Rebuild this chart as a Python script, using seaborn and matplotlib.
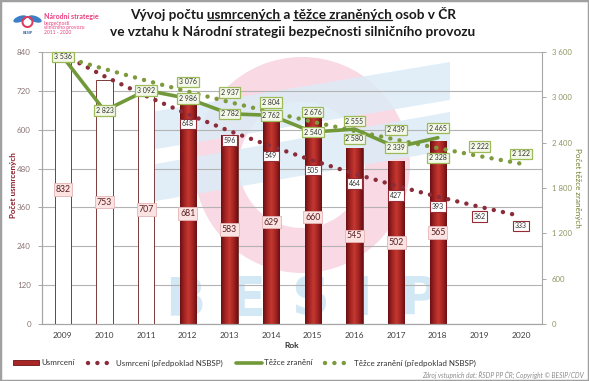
import numpy as np
import pandas as pd
import matplotlib
matplotlib.use("Agg")
import matplotlib.pyplot as plt
import seaborn as sns
from matplotlib.colors import LinearSegmentedColormap
from matplotlib.patches import Patch, Wedge, Polygon, Rectangle, Ellipse
from matplotlib.lines import Line2D

# data
years = [2009, 2010, 2011, 2012, 2013, 2014, 2015, 2016, 2017, 2018, 2019, 2020]
killed = [832, 753, 707, 681, 583, 629, 660, 545, 502, 565]
killed_target = [832, 765, 704, 648, 596, 549, 505, 464, 427, 393, 362, 333]
injured = [3536, 2823, 3092, 2986, 2782, 2762, 2540, 2580, 2339, 2465]
injured_target = [3536, 3375, 3222, 3076, 2937, 2804, 2676, 2555, 2439, 2328, 2222, 2122]
strategy_start = 2012

RED = "#a82626"
RED_DOT = "#8a2c3a"
GREEN = "#71993a"
GREEN_DOT = "#7d9a3c"
PINK = "#e8417f"
DOTS = (0, (0.01, 2.1))

sns.set_theme(style="white")
plt.rcParams["font.family"] = ["Lato", "DejaVu Sans"]

W, H = 589, 381
fig = plt.figure(figsize=(W / 100, H / 100), dpi=100)

# background watermark + logo, in pixel coordinates
bg = fig.add_axes([0, 0, 1, 1], zorder=-1)
bg.set_xlim(0, W)
bg.set_ylim(H, 0)
bg.axis("off")
bg.add_patch(Wedge((302, 165), 108, 0, 360, width=45, color="#f9d9e3", lw=0))
bg.add_patch(Polygon([(150, 112), (450, 62), (450, 100), (150, 150)], color="#dcecf6", alpha=0.85, lw=0))
bg.add_patch(Polygon([(150, 165), (450, 112), (450, 150), (150, 202)], color="#dcecf6", alpha=0.85, lw=0))
for letter, lx in zip("BESIP", [185, 247, 310, 362, 418]):
    bg.text(lx, 326, letter, ha="center", va="bottom", fontsize=38, fontweight="bold",
            color="#d3e8f5", family="DejaVu Sans")
# logo
bg.add_patch(Ellipse((20, 19), 14, 6, angle=-20, color="#3a7fc8", lw=0))
bg.add_patch(Ellipse((35, 19), 14, 6, angle=20, color="#3a7fc8", lw=0))
bg.add_patch(Wedge((27.5, 22), 6, 0, 360, width=2, color="#e03a5a", lw=0))
bg.text(27.5, 33, "BESIP", ha="center", va="center", fontsize=2.8, color="#2c5ea8", fontweight="bold")
bg.text(44, 17, "Národní strategie", fontsize=5, color=PINK, fontweight="bold", va="center")
for i, s in enumerate(["bezpečnosti", "silničního provozu", "2011 - 2020"]):
    bg.text(44, 23 + 5 * i, s, fontsize=3.6, color=PINK, va="center")
fig.add_artist(Rectangle((0, 0), 1, 1, transform=fig.transFigure, fill=False,
                         ec="#a0a0a0", lw=2.5))

# main axes
ax = fig.add_axes([42 / W, 1 - 324 / H, 500 / W, 272 / H])
ax.set_facecolor("none")

df = pd.DataFrame({
    "rok": years[:len(killed)],
    "usmrceni": killed,
    "obdobi": ["pred" if y < strategy_start else "strategie" for y in years[:len(killed)]],
})
sns.barplot(data=df, x="rok", y="usmrceni", hue="obdobi",
            palette={"pred": "white", "strategie": RED}, native_scale=True,
            width=0.4, saturation=1, edgecolor="#7d3a3a", linewidth=0.7,
            legend=False, ax=ax)

# cylinder-like shading on the red bars
bar_cmap = LinearSegmentedColormap.from_list(
    "bar", ["#6a1012", "#a42424", "#c4382f", "#a42424", "#6a1012"])
grad = np.linspace(0, 1, 64).reshape(1, -1)
for p in ax.patches:
    if p.get_facecolor()[1] < 0.5:
        im = ax.imshow(grad, extent=[p.get_x(), p.get_x() + p.get_width(), 0, p.get_height()],
                       cmap=bar_cmap, aspect="auto", origin="lower", zorder=p.get_zorder() + 0.01)
        im.set_clip_path(p)

sns.lineplot(x=years, y=killed_target, ax=ax, color=RED_DOT, lw=3.2,
             linestyle=DOTS, dash_capstyle="round", zorder=4)

for yr, v in zip(years, killed):
    ax.text(yr, v / 2, str(v), ha="center", va="center", fontsize=6.3, color="#5a1f1f", zorder=6,
            bbox=dict(boxstyle="square,pad=0.2", fc="#fbe3e3", ec="#e3b4b4", lw=0.6))
for yr, v in zip(years, killed_target):
    if yr < strategy_start:
        continue
    ax.annotate(str(v), (yr, v), xytext=(0, -7), textcoords="offset points",
                ha="center", va="center", fontsize=5, color="#333333", zorder=6,
                bbox=dict(boxstyle="square,pad=0.25", fc="white", ec="#952b35", lw=0.8))

ax.set_xlim(years[0] - 0.5, years[-1] + 0.5)
ax.set_ylim(0, 840)
ax.set_yticks(range(0, 841, 120))
ax.set_xticks(years)
ax.set_xticklabels([str(y) for y in years])
ax.grid(axis="y", color="#b3b3b3", lw=0.8)
ax.grid(axis="x", visible=False)
ax.set_axisbelow(True)
ax.tick_params(axis="x", length=0, pad=6, labelsize=6, labelcolor="#404040")
ax.tick_params(axis="y", length=3, width=0.6, color="#999999", pad=5, labelsize=5.8,
               labelcolor="#8a7474", left=True)
ax.set_xlabel("Rok", fontsize=6, fontweight="bold", color="#333333")
ax.xaxis.set_label_coords(0.5, -0.068)
ax.set_ylabel("Počet usmrcených", fontsize=5.8, fontweight="bold", color="#8b1d2a")
ax.yaxis.set_label_coords(-0.05, 0.51)

# right axis: seriously injured
ax2 = ax.twinx()
sns.lineplot(x=years, y=injured_target, ax=ax2, color=GREEN_DOT, lw=3.2,
             linestyle=DOTS, dash_capstyle="round", zorder=3)
sns.lineplot(x=years[:len(injured)], y=injured, ax=ax2, color=GREEN, lw=2.6,
             solid_joinstyle="round", zorder=4)
ax2.set_ylim(0, 3600)
ax2.set_yticks(range(0, 3601, 600))
ax2.set_yticklabels([f"{v:,}".replace(",", " ") for v in range(0, 3601, 600)])
ax2.tick_params(axis="y", length=3, width=0.6, color="#999999", pad=4, labelsize=5.6,
                labelcolor="#8e9460", right=True)
ax2.grid(False)
ax2.set_ylabel("Počet těžce zraněných", rotation=270, fontsize=5.8, color="#6f7f2c", va="center")
ax2.yaxis.set_label_coords(1.072, 0.5)

green_box = dict(boxstyle="square,pad=0.25", fc="#f4f8e8", ec="#9cbb58", lw=0.9)
for i, yr in enumerate(years):
    t = injured_target[i]
    off_t = 7
    s = injured[i] if i < len(injured) else None
    off_s = 0
    if s is not None and s > t + 50:
        off_s, off_t = 7, -7
    elif s is not None and s > t:
        off_s = -7
    if yr >= strategy_start:
        ax2.annotate(f"{t:,}".replace(",", " "), (yr, t), xytext=(0, off_t), textcoords="offset points",
                     ha="center", va="center", fontsize=5, color="#333333", zorder=6, bbox=green_box)
    if s is not None:
        ax2.annotate(f"{s:,}".replace(",", " "), (yr, s), xytext=(0, off_s), textcoords="offset points",
                     ha="center", va="center", fontsize=5, color="#333333", zorder=7, bbox=green_box)

for a in (ax, ax2):
    a.spines["top"].set_visible(False)
    for side in ("left", "right", "bottom"):
        a.spines[side].set_color("#a6a6a6")
        a.spines[side].set_linewidth(0.8)
ax.spines["right"].set_visible(False)

# legend
handles = [
    Patch(fc=RED, ec="#6a1012", lw=0.6),
    Line2D([], [], color=RED_DOT, lw=3.2, linestyle=DOTS, dash_capstyle="round"),
    Line2D([], [], color=GREEN, lw=2.6),
    Line2D([], [], color=GREEN_DOT, lw=3.2, linestyle=DOTS, dash_capstyle="round"),
]
labels = ["Usmrcení", "Usmrcení (předpoklad NSBSP)", "Těžce zranění", "Těžce zranění (předpoklad NSBSP)"]
fig.legend(handles, labels, loc="center", bbox_to_anchor=(0.415, 1 - 363 / H), ncol=4,
           frameon=False, fontsize=5.8, handlelength=3.2, handleheight=0.5,
           columnspacing=1.6, handletextpad=0.3, labelcolor="#333333")

fig.text(0.992, 1 - 375 / H, "Zdroj vstupních dat: ŘSDP PP ČR; Copyright © BESIP/CDV",
         ha="right", va="center", fontsize=4.8, style="italic", color="#8c8c8c")

# title with underlined words
title_lines = ["Vývoj počtu usmrcených a těžce zraněných osob v ČR",
               "ve vztahu k Národní strategii bezpečnosti silničního provozu"]
title_y = [1 - 14 / H, 1 - 32 / H]
underlined = [["usmrcených", "těžce zraněných"], []]
renderer = fig.canvas.get_renderer()
for line, ty, words in zip(title_lines, title_y, underlined):
    tt = fig.text(0.497, ty, line, ha="center", va="center", fontsize=9.8,
                  fontweight="bold", color="#1a1a1a")
    bb = tt.get_window_extent(renderer)
    for w in words:
        end = line.index(w) + len(w)
        tmp_pre = fig.text(0, 0, line[:end], fontproperties=tt.get_fontproperties())
        tmp_w = fig.text(0, 0, w, fontproperties=tt.get_fontproperties())
        x1 = bb.x0 + tmp_pre.get_window_extent(renderer).width
        x0 = x1 - tmp_w.get_window_extent(renderer).width
        tmp_pre.remove()
        tmp_w.remove()
        uy = bb.y0 + 1.5
        fig.add_artist(Line2D([x0 / W, x1 / W], [uy / H, uy / H], transform=fig.transFigure,
                              color="#1a1a1a", lw=0.9))

fig.savefig("out.png", dpi=100)
